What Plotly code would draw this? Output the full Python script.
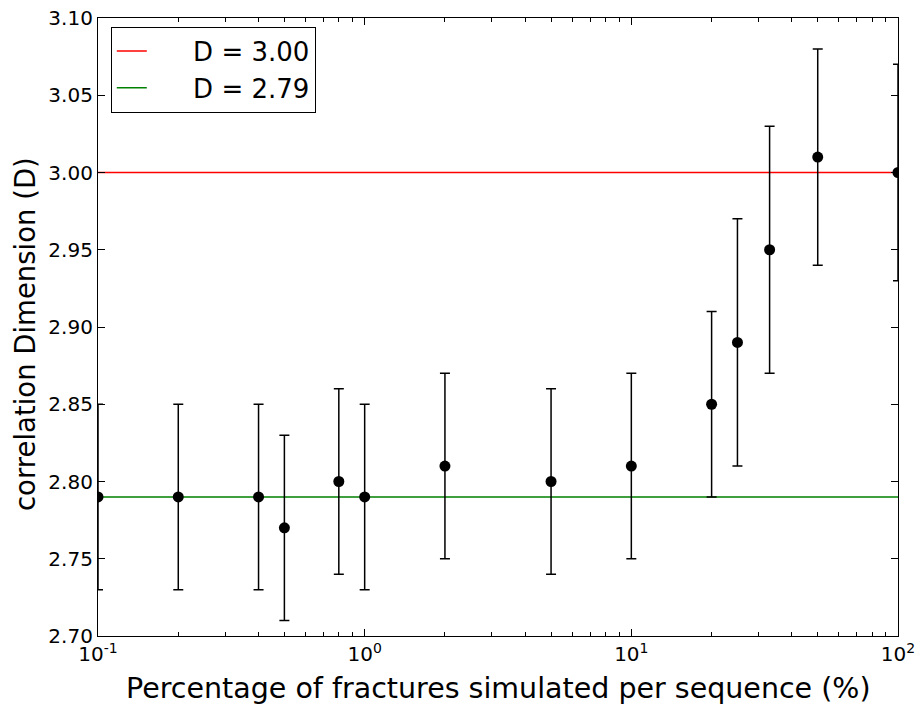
import plotly.graph_objects as go

# Data
pct = [0.1, 0.2, 0.4, 0.5, 0.8, 1.0, 2.0, 5.0, 10.0, 20.0, 25.0, 33.0, 50.0, 100.0]
dim = [2.79, 2.79, 2.79, 2.77, 2.80, 2.79, 2.81, 2.80, 2.81, 2.85, 2.89, 2.95, 3.01, 3.00]
err = [0.06, 0.06, 0.06, 0.06, 0.06, 0.06, 0.06, 0.06, 0.06, 0.06, 0.08, 0.08, 0.07, 0.07]
ref_levels = [3.00, 2.79]
ref_names = ["D = 3.00", "D = 2.79"]
ref_colors = ["#ff0000", "#008000"]
x_major = [0.1, 1, 10, 100]
x_major_text = ["10<sup>-1</sup>", "10<sup>0</sup>", "10<sup>1</sup>", "10<sup>2</sup>"]
x_minor = [m * d for d in (0.1, 1, 10) for m in range(2, 10)]
x_title = "Percentage of fractures simulated per sequence (%)"
y_title = "correlation Dimension (D)"

fig = go.Figure()
for lvl, name, col in zip(ref_levels, ref_names, ref_colors):
    fig.add_trace(go.Scatter(x=[x_major[0], x_major[-1]], y=[lvl, lvl], mode="lines",
                             name="     " + name, line=dict(color=col, width=1.5)))

fig.add_trace(go.Scatter(
    x=pct, y=dim, mode="markers", showlegend=False,
    marker=dict(color="black", size=11),
    error_y=dict(type="data", array=err, visible=True, color="black", thickness=1.5, width=5),
))

axis_common = dict(showline=True, linecolor="black", linewidth=1.2, mirror="allticks",
                   ticks="inside", tickcolor="black", showgrid=False, zeroline=False,
                   automargin=False, ticklabeloverflow="allow",
                   tickfont=dict(family="DejaVu Sans", size=20, color="black"))

fig.update_xaxes(type="log", range=[-1, 2], tickmode="array", tickvals=x_major,
                 ticktext=x_major_text, ticklen=7, tickwidth=1,
                 minor=dict(tickmode="array", tickvals=x_minor, ticks="inside", ticklen=4,
                            tickcolor="black", showgrid=False),
                 **axis_common)
fig.update_yaxes(range=[2.70, 3.10], dtick=0.05, tick0=2.70, tickformat=".2f",
                 ticklen=7, tickwidth=1, **axis_common)

fig.add_annotation(text=x_title, xref="paper", yref="paper", x=0.5, y=0,
                   xanchor="center", yanchor="middle", yshift=-52, showarrow=False,
                   font=dict(family="DejaVu Sans", size=28.5, color="black"))
fig.add_annotation(text=y_title, xref="paper", yref="paper", x=0, y=0.5,
                   xanchor="center", yanchor="middle", xshift=-73, yshift=-7,
                   textangle=-90, showarrow=False,
                   font=dict(family="DejaVu Sans", size=27.5, color="black"))

fig.update_layout(
    width=918, height=711,
    margin=dict(l=98, r=20, t=18, b=75),
    plot_bgcolor="white", paper_bgcolor="white",
    legend=dict(x=0.016, y=0.986, xanchor="left", yanchor="top",
                bordercolor="black", borderwidth=1, bgcolor="white",
                font=dict(family="DejaVu Sans", size=26, color="black")),
)

fig.write_html("out.html", config={"displayModeBar": False},
               post_script="document.body.style.margin='0';document.body.style.overflow='hidden';")
